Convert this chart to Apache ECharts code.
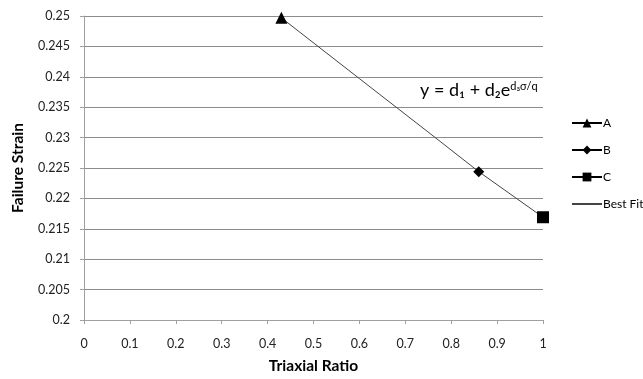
<!DOCTYPE html>
<html><head><meta charset="utf-8">
<script src="https://cdn.jsdelivr.net/npm/echarts@6/dist/echarts.min.js"></script>
<style>html,body{margin:0;padding:0;background:#fff}#c{width:643px;height:379px}</style>
</head><body><div id="c"></div>
<script>
const seriesA = [[0.43, 0.2497]];
const seriesB = [[0.86, 0.2244]];
const seriesC = [[1.0, 0.2169]];
const bestFitX = [0.43, 0.6, 0.75, 0.86, 1.0];
const bestFitY = [0.2497, 0.2397, 0.2309, 0.2244, 0.2169];
const xTicks = [0, 0.1, 0.2, 0.3, 0.4, 0.5, 0.6, 0.7, 0.8, 0.9, 1];
const yTicks = [0.2, 0.205, 0.21, 0.215, 0.22, 0.225, 0.23, 0.235, 0.24, 0.245, 0.25];

const FONT = 'Lato, "Open Sans", sans-serif';
const chart = echarts.init(document.getElementById('c'));
const mk = (name, sym, size, data) => ({
  name, type: 'line', data, symbol: sym, symbolSize: size,
  lineStyle: { color: '#000', width: 2 }, itemStyle: { color: '#000' },
  z: 5, animation: false
});
chart.setOption({
  animation: false,
  textStyle: { fontFamily: FONT },
  grid: { left: 84, right: 100, top: 16, bottom: 54 },
  xAxis: {
    type: 'value', min: 0, max: 1, interval: 0.1,
    name: 'Triaxial Ratio', nameLocation: 'middle', nameGap: 38,
    nameTextStyle: { fontFamily: FONT, fontWeight: 'bold', fontSize: 15.5, color: '#000' },
    axisLine: { lineStyle: { color: '#a0a0a0' } },
    axisTick: { show: true, length: 4, lineStyle: { color: '#a0a0a0' } },
    axisLabel: { color: '#222', fontSize: 12.5, margin: 17,
      formatter: v => String(+v.toFixed(2)) },
    splitLine: { show: false }
  },
  yAxis: {
    type: 'value', min: 0.2, max: 0.25, interval: 0.005,
    name: 'Failure Strain', nameLocation: 'middle', nameGap: 58,
    nameTextStyle: { fontFamily: FONT, fontWeight: 'bold', fontSize: 15.5, color: '#000' },
    axisLine: { show: true, lineStyle: { color: '#a0a0a0' } },
    axisTick: { show: true, length: 4, lineStyle: { color: '#a0a0a0' } },
    axisLabel: { color: '#222', fontSize: 12.5, margin: 14,
      formatter: v => String(+v.toFixed(3)) },
    splitLine: { show: true, lineStyle: { color: '#8c8c8c', width: 1 } }
  },
  legend: {
    orient: 'vertical', left: 566, top: 112, itemGap: 15,
    itemWidth: 30, itemHeight: 11,
    textStyle: { fontFamily: FONT, fontSize: 12, color: '#000', padding: [0, 0, 0, -4] },
    data: [
      { name: 'A' }, { name: 'B' }, { name: 'C' },
      { name: 'Best Fit', itemStyle: { opacity: 0 } }
    ]
  },
  series: [
    { name: 'Best Fit', type: 'line', symbol: 'none',
      data: bestFitX.map((x, i) => [x, bestFitY[i]]),
      lineStyle: { color: '#444', width: 1 }, itemStyle: { color: '#000' }, z: 3 },
    mk('A', 'triangle', 12, seriesA),
    mk('B', 'diamond', 11, seriesB),
    mk('C', 'rect', 12, seriesC)
  ],
  graphic: [{
    type: 'text', left: 420, top: 81,
    style: {
      text: '{m|y = d₁ + d₂e}{s|d₃σ/q}',
      rich: {
        m: { fontFamily: FONT, fontSize: 18, fill: '#000', verticalAlign: 'bottom' },
        s: { fontFamily: FONT, fontSize: 11, fill: '#000', verticalAlign: 'top' }
      }
    }
  }]
});
</script></body></html>
